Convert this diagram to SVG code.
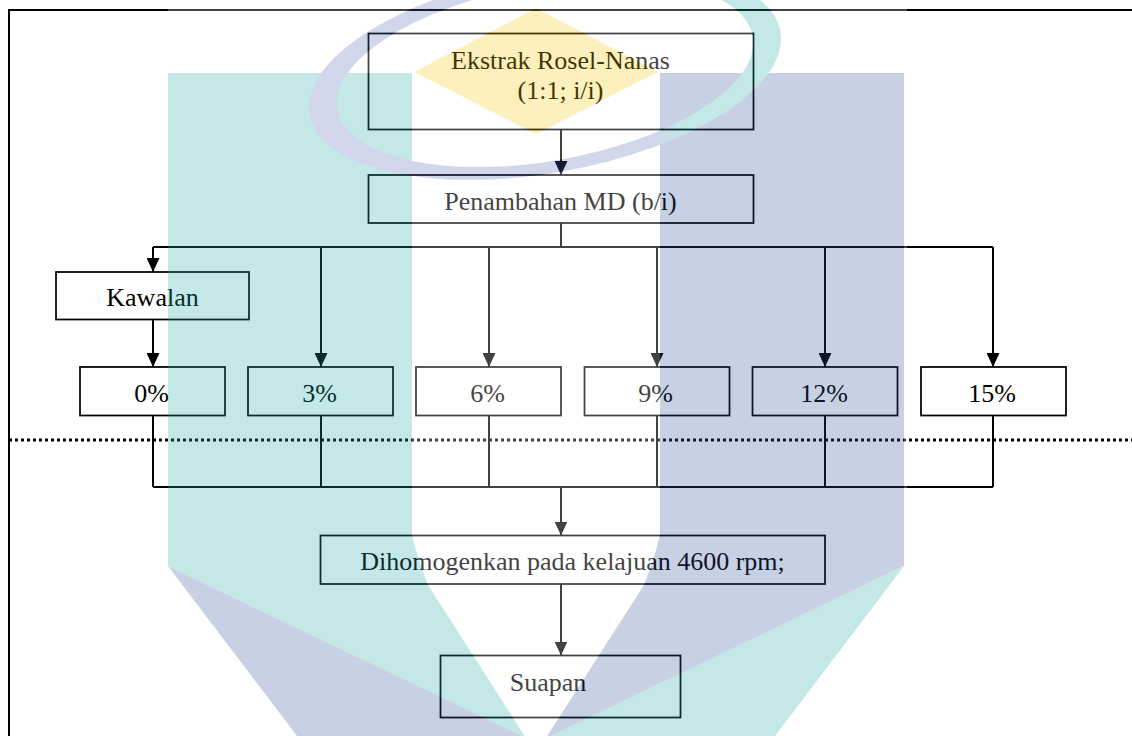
<svg xmlns="http://www.w3.org/2000/svg" width="1132" height="736" viewBox="0 0 1132 736">
<defs>
<style>
.box{fill:#fff;stroke:#000;stroke-width:1.75}
.ln{fill:none;stroke:#000;stroke-width:2}
.arr{fill:none;stroke:#000;stroke-width:2;marker-end:url(#ah)}
.dot{fill:none;stroke:#000;stroke-width:3;stroke-dasharray:3 3}
.t{font-size:26px;fill:#000;text-anchor:middle}
</style>
<marker id="ah" viewBox="0 0 14 13" refX="14" refY="6.5" markerWidth="14" markerHeight="13" markerUnits="userSpaceOnUse" orient="auto"><path d="M0,0 L14,6.5 L0,13 Z" fill="#000"/></marker>
<linearGradient id="ringg" gradientUnits="userSpaceOnUse" x1="95" y1="0" x2="125" y2="0"><stop offset="0" stop-color="#5563b4"/><stop offset="1" stop-color="#20aaa6"/></linearGradient>
</defs>
<rect width="1132" height="736" fill="#fff"/>
<g id="frame"><path class="ln" d="M9,736 V10 H1132"/></g>
<g id="connectors">
<path class="arr" d="M561,129.5 V175"/>
<path class="ln" d="M561,223 V247"/>
<path class="ln" d="M153,247 H993"/>
<path class="arr" d="M153,247 V272"/>
<path class="arr" d="M153,319.5 V367"/>
<path class="arr" d="M321,247 V367"/>
<path class="arr" d="M489,247 V367"/>
<path class="arr" d="M657,247 V367"/>
<path class="arr" d="M825,247 V367"/>
<path class="arr" d="M993,247 V367"/>
<path class="ln" d="M153,415.5 V487 M321,415.5 V487 M489,415.5 V487 M657,415.5 V487 M825,415.5 V487 M993,415.5 V487"/>
<path class="ln" d="M153,487 H993"/>
<path class="arr" d="M561,487 V535.5"/>
<path class="arr" d="M561,584 V655.5"/>
<path class="dot" d="M9,440 H1132"/>
</g>
<g font-family="'Liberation Serif', 'DejaVu Serif', serif">
<g id="n-ekstrak"><rect class="box" x="368.5" y="33.5" width="385" height="96"/><text class="t" x="560.5" y="69">Ekstrak Rosel-Nanas</text><text class="t" x="560.5" y="99">(1:1; i/i)</text></g>
<g id="n-penambahan"><rect class="box" x="368.5" y="175" width="385" height="48"/><text class="t" x="560.5" y="210">Penambahan MD (b/i)</text></g>
<g id="n-kawalan"><rect class="box" x="56" y="272" width="193" height="47.5"/><text class="t" x="152.5" y="306">Kawalan</text></g>
<g id="n-p0"><rect class="box" x="80" y="367" width="145" height="48.5"/><text class="t" x="151.5" y="402">0%</text></g>
<g id="n-p3"><rect class="box" x="248" y="367" width="145" height="48.5"/><text class="t" x="319.5" y="402">3%</text></g>
<g id="n-p6"><rect class="box" x="416" y="367" width="145" height="48.5"/><text class="t" x="487.5" y="402">6%</text></g>
<g id="n-p9"><rect class="box" x="584.5" y="367" width="145" height="48.5"/><text class="t" x="655.5" y="402">9%</text></g>
<g id="n-p12"><rect class="box" x="752.5" y="367" width="145" height="48.5"/><text class="t" x="824" y="402">12%</text></g>
<g id="n-p15"><rect class="box" x="921" y="367" width="145" height="48.5"/><text class="t" x="992" y="402">15%</text></g>
<g id="n-dihomogenkan"><rect class="box" x="320.5" y="535.5" width="504.5" height="48.5"/><text class="t" x="572.5" y="570">Dihomogenkan pada kelajuan 4600 rpm;</text></g>
<g id="n-suapan"><rect class="box" x="440.5" y="655.5" width="240" height="62"/><text class="t" x="548" y="691">Suapan</text></g>
</g>
<g id="watermark" opacity="0.26">
<rect x="168" y="0" width="739" height="736" fill="#fff"/>
<polygon points="168,566 297,736 523,736" fill="#2f4e97"/>
<polygon points="904,566 775,736 549,736" fill="#20aaa6"/>
<path d="M168,73 H412 V535 Q418,560 428,585 L526,738 L168,566 Z" fill="#20aaa6"/>
<path d="M904,73 H660 V535 Q654,560 644,585 L546,738 L904,566 Z" fill="#2f4e97"/>
<polygon points="536,8 658,72 536,134 414,72" fill="#f7cd09"/>
<g transform="translate(545 73) rotate(-10)"><path fill="url(#ringg)" fill-rule="evenodd" d="M-239,0 a239,100 0 1,0 478,0 a239,100 0 1,0 -478,0 Z M-211,0 a211,88 0 1,0 422,0 a211,88 0 1,0 -422,0 Z"/></g>
</g>
</svg>
